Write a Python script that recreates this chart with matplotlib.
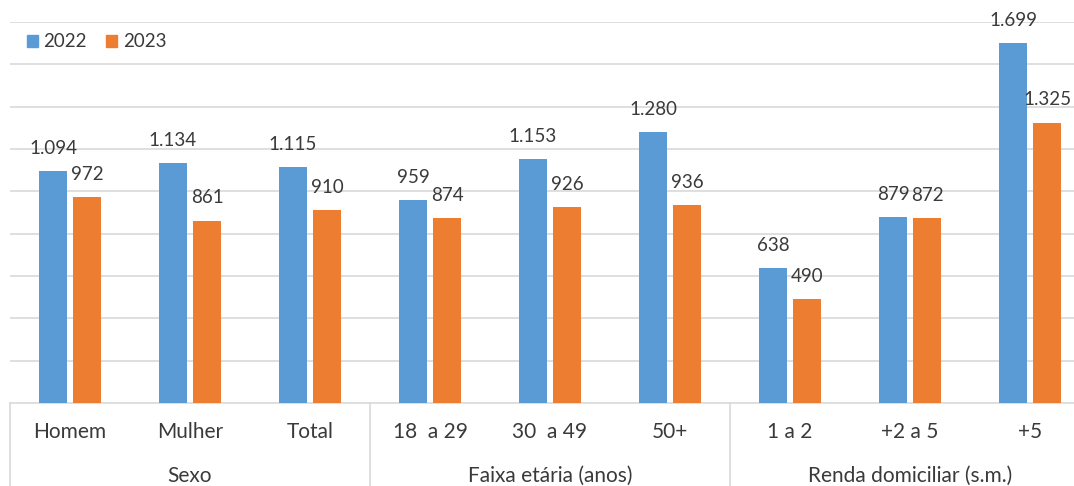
import matplotlib.pyplot as plt
import matplotlib.transforms as mtransforms
import numpy as np

plt.rcParams['font.family'] = ['Lato', 'DejaVu Sans']

# dados
categorias = ['Homem', 'Mulher', 'Total', '18  a 29', '30  a 49', '50+',
              '1 a 2', '+2 a 5', '+5']
grupos = ['Sexo', 'Faixa etária (anos)', 'Renda domiciliar (s.m.)']
tam_grupos = [3, 3, 3]
valores_2022 = [1094, 1134, 1115, 959, 1153, 1280, 638, 879, 1699]
valores_2023 = [972, 861, 910, 874, 926, 936, 490, 872, 1325]
series = ['2022', '2023']

azul = '#5B9BD5'
laranja = '#ED7D31'
cinza_txt = '#3A3A3A'
cinza_linha = '#D9D9D9'

def fmt(v):
    # separador de milhar com ponto
    return '{:,}'.format(v).replace(',', '.')

fig = plt.figure(figsize=(10.74, 4.86), dpi=100)
W, H = 1074, 486
ax = fig.add_axes([10 / W, 83 / H, 1080 / W, 381 / H])

x = np.arange(len(categorias))
larg = 0.23
desl = 0.142
b1 = ax.bar(x - desl, valores_2022, larg, color=azul, zorder=3)
b2 = ax.bar(x + desl, valores_2023, larg, color=laranja, zorder=3)

ax.set_xlim(-0.5, len(categorias) - 0.5)
ax.set_ylim(0, 1800)
ax.set_yticks(np.arange(200, 1801, 200))
ax.yaxis.grid(True, color=cinza_linha, lw=1.2, zorder=0)
ax.set_yticklabels([])
ax.set_xticks([])
ax.tick_params(left=False, bottom=False)
for s in ['top', 'right', 'left']:
    ax.spines[s].set_visible(False)
ax.spines['bottom'].set_color(cinza_linha)
ax.spines['bottom'].set_linewidth(1.2)

# rótulos de valor
for barras, vals in [(b1, valores_2022), (b2, valores_2023)]:
    for b, v in zip(barras, vals):
        ax.annotate(fmt(v), (b.get_x() + b.get_width() / 2, v),
                    xytext=(0, 12.5), textcoords='offset points',
                    ha='center', va='baseline', fontsize=13.5, color=cinza_txt)

# eixo de categorias em dois níveis
trans = mtransforms.blended_transform_factory(ax.transData, fig.transFigure)
for i, c in enumerate(categorias):
    ax.text(i, (H - 438) / H, c, transform=trans, ha='center', va='baseline',
            fontsize=15, color=cinza_txt)

inicio = 0
for g, n in zip(grupos, tam_grupos):
    meio = inicio + (n - 1) / 2
    ax.text(meio, (H - 481.5) / H, g, transform=trans, ha='center',
            va='baseline', fontsize=15, color=cinza_txt)
    xs = inicio - 0.5
    ax.plot([xs, xs], [(H - 403) / H, 0], transform=trans,
            color=cinza_linha, lw=1.2, clip_on=False)
    inicio += n

# legenda
fig.patches.append(plt.Rectangle((27 / W, (H - 47) / H), 11 / W, 12 / H,
                                 transform=fig.transFigure, color=azul))
fig.text(43 / W, (H - 47) / H, series[0], fontsize=13.5, color=cinza_txt,
         va='baseline')
fig.patches.append(plt.Rectangle((106 / W, (H - 47) / H), 11 / W, 12 / H,
                                 transform=fig.transFigure, color=laranja))
fig.text(123 / W, (H - 47) / H, series[1], fontsize=13.5, color=cinza_txt,
         va='baseline')

fig.savefig('out.png', dpi=100)
